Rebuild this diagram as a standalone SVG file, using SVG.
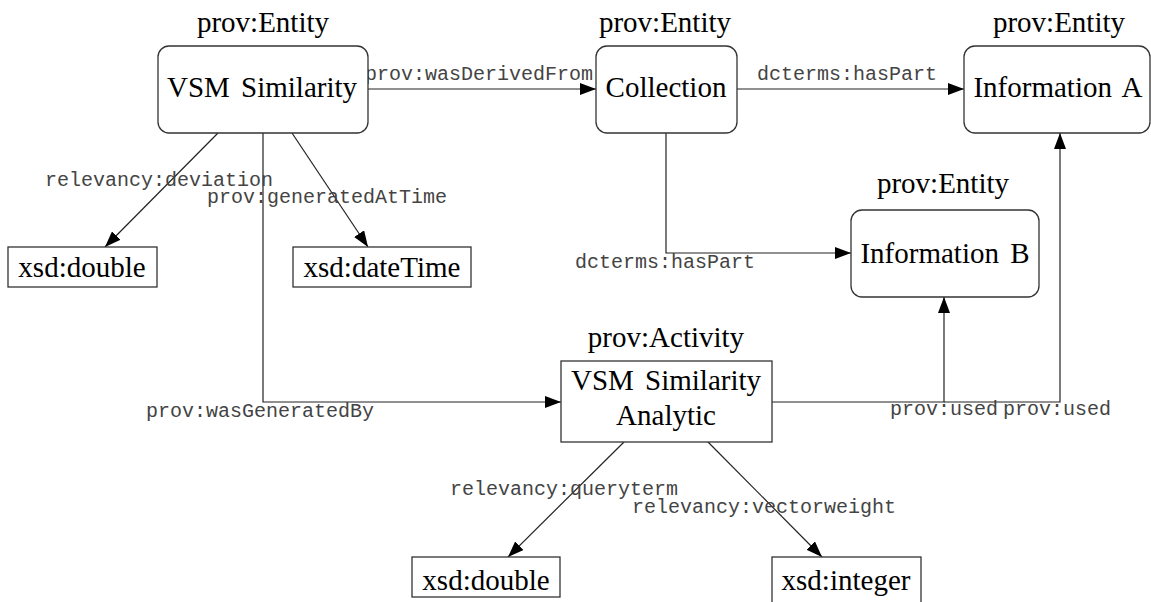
<svg xmlns="http://www.w3.org/2000/svg" width="1151" height="602" viewBox="0 0 1151 602">
<defs>
<marker id="arr" markerUnits="userSpaceOnUse" markerWidth="16" markerHeight="12" refX="16" refY="6" orient="auto">
<path d="M0,0 L16,6 L0,12 z" fill="#000"/>
</marker>
<style>
.box{fill:#fff;stroke:#333;stroke-width:1.3}
.serif{font-family:"Liberation Serif","Times New Roman",serif;font-size:29px;fill:#000}
.mono{font-family:"Liberation Mono","Courier New",monospace;font-size:20px;fill:#444}
.edge{fill:none;stroke:#222;stroke-width:1.2}
</style>
</defs>
<rect width="1151" height="602" fill="#fff"/>
<g id="connectors">
<path class="edge" d="M368,89 L596,89" marker-end="url(#arr)"/>
<path class="edge" d="M737,89 L964,89" marker-end="url(#arr)"/>
<path class="edge" d="M666,133 L666,253 L851,253" marker-end="url(#arr)"/>
<path class="edge" d="M218,133 L105,247" marker-end="url(#arr)"/>
<path class="edge" d="M292,133 L368,247" marker-end="url(#arr)"/>
<path class="edge" d="M263,133 L263,402 L561,402" marker-end="url(#arr)"/>
<path class="edge" d="M772,402 L944,402 L944,297" marker-end="url(#arr)"/>
<path class="edge" d="M944,402 L1060,402 L1060,133" marker-end="url(#arr)"/>
<path class="edge" d="M624,442 L508,557" marker-end="url(#arr)"/>
<path class="edge" d="M708,442 L822,557" marker-end="url(#arr)"/>
<text class="mono" x="365" y="80">prov:wasDerivedFrom</text>
<text class="mono" x="757" y="80">dcterms:hasPart</text>
<text class="mono" x="575" y="268">dcterms:hasPart</text>
<text class="mono" x="45" y="186">relevancy:deviation</text>
<text class="mono" x="207" y="203">prov:generatedAtTime</text>
<text class="mono" x="146" y="417">prov:wasGeneratedBy</text>
<text class="mono" x="890" y="415">prov:used</text>
<text class="mono" x="1003" y="415">prov:used</text>
<text class="mono" x="450" y="495">relevancy:queryterm</text>
<text class="mono" x="632" y="513">relevancy:vectorweight</text>
</g>
<g id="vsm-similarity">
<text class="serif" x="263" y="32" text-anchor="middle">prov:Entity</text>
<rect class="box" x="158" y="46" width="210" height="87" rx="11"/>
<text class="serif" x="262" y="97" text-anchor="middle" word-spacing="4">VSM Similarity</text>
</g>
<g id="collection">
<text class="serif" x="665" y="32" text-anchor="middle">prov:Entity</text>
<rect class="box" x="596" y="46" width="141" height="87" rx="11"/>
<text class="serif" x="666" y="97" text-anchor="middle">Collection</text>
</g>
<g id="information-a">
<text class="serif" x="1059" y="32" text-anchor="middle">prov:Entity</text>
<rect class="box" x="964" y="46" width="186" height="87" rx="11"/>
<text class="serif" x="1058" y="97" text-anchor="middle" word-spacing="4">Information A</text>
</g>
<g id="information-b">
<text class="serif" x="943" y="193" text-anchor="middle">prov:Entity</text>
<rect class="box" x="851" y="210" width="188" height="87" rx="11"/>
<text class="serif" x="945" y="263" text-anchor="middle" word-spacing="4">Information B</text>
</g>
<g id="xsd-double-1">
<rect class="box" x="8" y="247" width="149" height="40"/>
<text class="serif" x="82" y="277" text-anchor="middle">xsd:double</text>
</g>
<g id="xsd-datetime">
<rect class="box" x="293" y="247" width="178" height="40"/>
<text class="serif" x="382" y="277" text-anchor="middle">xsd:dateTime</text>
</g>
<g id="vsm-analytic">
<text class="serif" x="666" y="347" text-anchor="middle">prov:Activity</text>
<rect class="box" x="561" y="361" width="211" height="81"/>
<text class="serif" x="666" y="390" text-anchor="middle" word-spacing="4">VSM Similarity</text>
<text class="serif" x="666" y="425" text-anchor="middle">Analytic</text>
</g>
<g id="xsd-double-2">
<rect class="box" x="412" y="557" width="148" height="40"/>
<text class="serif" x="486" y="590" text-anchor="middle">xsd:double</text>
</g>
<g id="xsd-integer">
<rect class="box" x="772" y="557" width="149" height="55"/>
<text class="serif" x="846" y="590" text-anchor="middle">xsd:integer</text>
</g>
</svg>
